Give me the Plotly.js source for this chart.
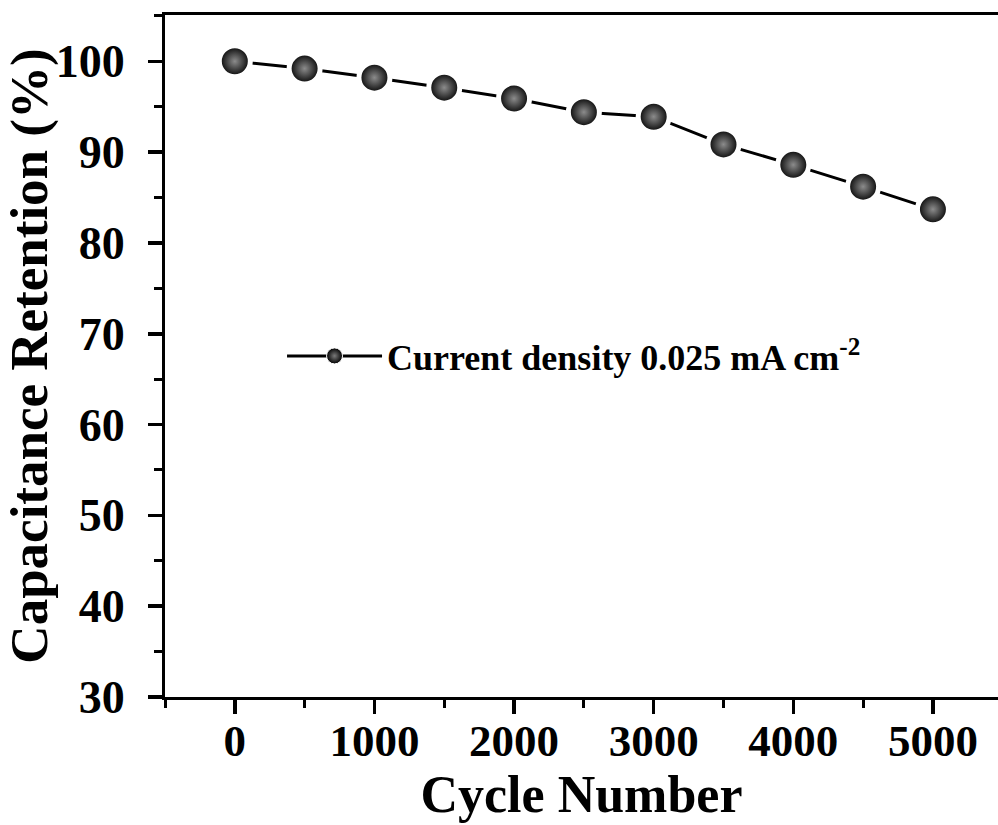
<!DOCTYPE html>
<html>
<head>
<meta charset="utf-8">
<script src="https://cdn.plot.ly/plotly-3.0.1.min.js"></script>
<style>html,body{margin:0;padding:0;background:#fff;overflow:hidden}</style>
</head>
<body>
<div id="chart" style="width:998px;height:825px"></div>
<script>
const cycles = [0, 500, 1000, 1500, 2000, 2500, 3000, 3500, 4000, 4500, 5000];
const retention = [100, 99.2, 98.2, 97.1, 95.9, 94.4, 93.9, 90.85, 88.6, 86.2, 83.7];
const seriesName = 'Current density 0.025 mA cm<sup>-2</sup>';
const xTickStep = 1000;
const yTickStep = 10;

const FONT = 'Liberation Serif, Times New Roman, serif';

// line + small sphere: this is the trace shown in the legend
const lineTrace = {
  x: cycles,
  y: retention,
  type: 'scatter',
  mode: 'lines+markers',
  name: seriesName,
  line: {color: '#000', width: 3},
  marker: {
    size: 16,
    color: '#000',
    gradient: {type: 'radial', color: '#7a7a7a'},
    line: {color: '#fff', width: 1}
  },
  cliponaxis: false
};

// big shaded spheres with a white halo that opens a gap in the line
const sphereTrace = {
  x: cycles,
  y: retention,
  type: 'scatter',
  mode: 'markers',
  showlegend: false,
  marker: {
    size: 31,
    color: '#000',
    gradient: {type: 'radial', color: '#8c8c8c'},
    line: {color: '#fff', width: 5}
  },
  cliponaxis: false
};

const layout = {
  width: 998,
  height: 825,
  margin: {l: 165, r: 0, t: 15, b: 128},
  paper_bgcolor: '#fff',
  plot_bgcolor: '#fff',
  showlegend: true,
  font: {family: FONT, color: '#000', weight: 'bold'},
  xaxis: {
    range: [-500, 5466],
    tickmode: 'linear',
    tick0: 0,
    dtick: xTickStep,
    ticks: 'outside',
    ticklen: 14,
    tickwidth: 3.5,
    tickcolor: '#000',
    showline: true,
    linewidth: 3,
    linecolor: '#000',
    mirror: true,
    showgrid: false,
    zeroline: false,
    ticklabelstandoff: -12,
    tickfont: {family: FONT, size: 45, weight: 'bold'},
    minor: {dtick: xTickStep / 2, tick0: 0, ticks: 'outside', ticklen: 8, tickwidth: 3, tickcolor: '#000', showgrid: false},
    title: {text: 'Cycle Number', font: {family: FONT, size: 52, weight: 'bold'}, standoff: 6}
  },
  yaxis: {
    range: [30, 105.1],
    tickmode: 'linear',
    tick0: 30,
    dtick: yTickStep,
    ticks: 'outside',
    ticklen: 14,
    tickwidth: 3.5,
    tickcolor: '#000',
    showline: true,
    linewidth: 3,
    linecolor: '#000',
    mirror: false,
    showgrid: false,
    zeroline: false,
    ticklabelstandoff: 14,
    tickfont: {family: FONT, size: 46, weight: 'bold'},
    minor: {dtick: yTickStep / 2, tick0: 0, ticks: 'outside', ticklen: 8, tickwidth: 3, tickcolor: '#000', showgrid: false},
    title: {text: 'Capacitance Retention (%)', font: {family: FONT, size: 53, weight: 'bold'}, standoff: 4}
  },
  legend: {
    x: 0.1405,
    y: 0.50,
    xanchor: 'left',
    yanchor: 'middle',
    itemwidth: 95,
    bgcolor: 'rgba(0,0,0,0)',
    borderwidth: 0,
    font: {family: FONT, size: 36, weight: 'bold', color: '#000'}
  }
};

Plotly.newPlot('chart', [lineTrace, sphereTrace], layout, {displayModeBar: false, staticPlot: true});
</script>
</body>
</html>
